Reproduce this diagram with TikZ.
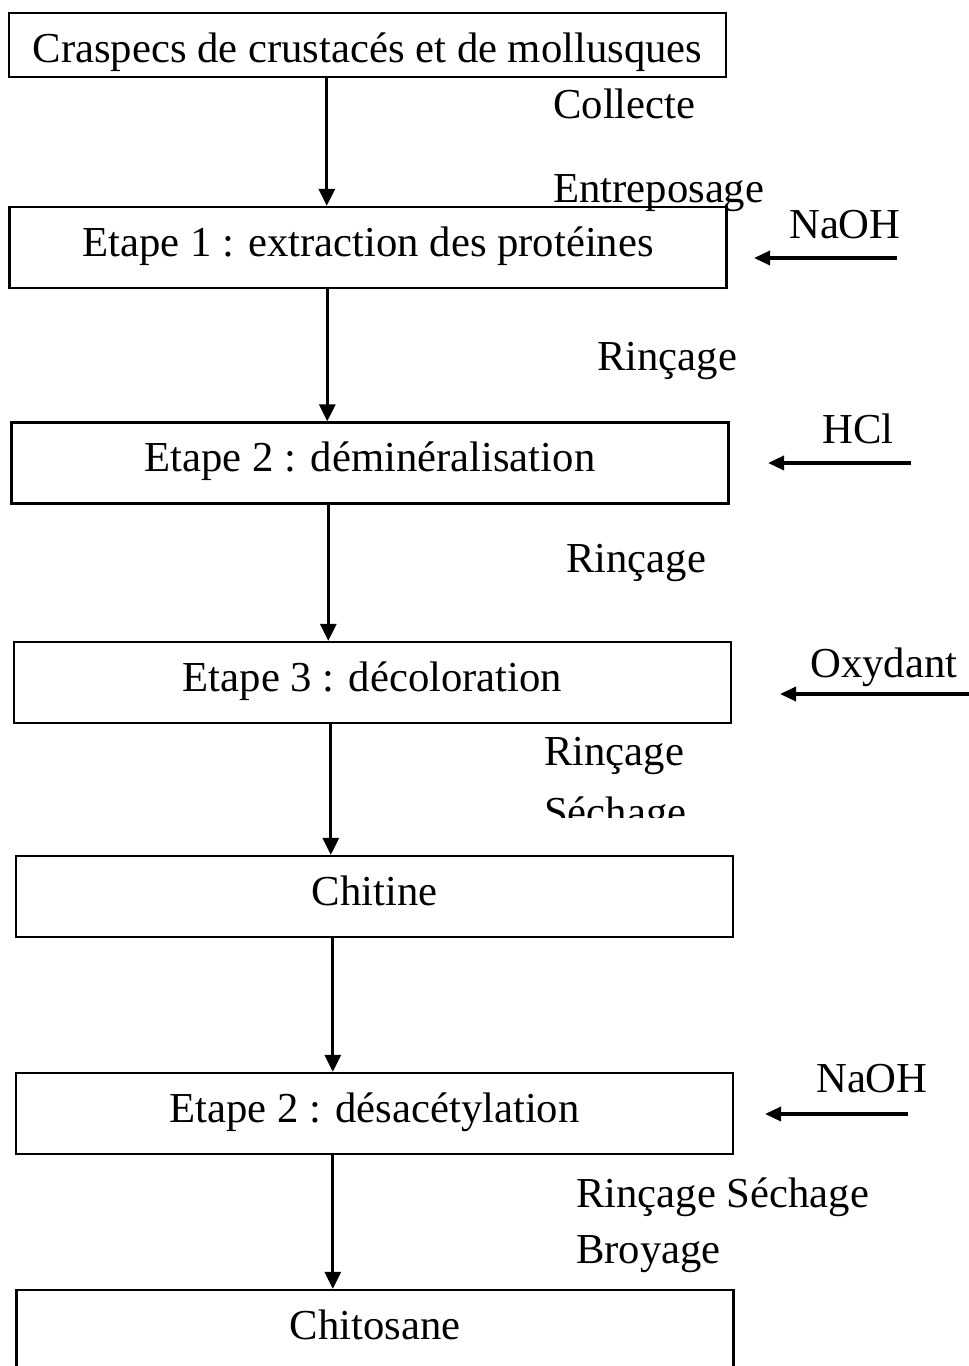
\documentclass[tikz,border=0pt]{standalone}
\usepackage{fontspec}
\setmainfont{Liberation Serif}
\usetikzlibrary{arrows.meta}
\begin{document}
\begin{tikzpicture}[x=1pt,y=-1pt,>={Triangle[length=17pt,width=16pt]}]
\tikzstyle{etape}=[draw, rectangle, line width=2.4pt, minimum width=717pt, minimum height=81pt, text height=29.9pt, text depth=12.8pt]
\tikzstyle{note}=[anchor=base west, inner sep=0pt]
\tikzstyle{fleche}=[->, line width=3pt]
\tikzstyle{ajout}=[-{Triangle[length=16pt,width=14pt]}, line width=3.4pt]
\fontsize{42.7}{52}\selectfont
\useasboundingbox (0,0) rectangle (969,1366);

\node[etape, minimum height=64pt, text height=34pt, text depth=0pt] (crasp) at (367.5,45) {Craspecs de crustacés et de mollusques};
\node[etape] (E1)    at (368,247.5)    {Etape 1 : extraction des protéines};
\node[etape] (E2)    at (370,463)      {Etape 2 : déminéralisation};
\node[etape] (E3)    at (372.5,682.5)  {Etape 3 : décoloration};
\node[etape] (chit)  at (374.5,896.5)  {Chitine};
\node[etape] (E4)    at (374.5,1113.5) {Etape 2 : désacétylation};
\node[etape] (chito) at (375,1330.5)   {Chitosane};

\node[note] (coll)  at (553,118)  {Collecte};
\node[note] (entr)  at (553,202)  {Entreposage};
\node[note] (rin1)  at (597,370)  {Rinçage};
\node[note] (rin2)  at (566,572)  {Rinçage};
\node[note] (rin3)  at (544,765)  {Rinçage};
\begin{scope}
\clip (500,780) rectangle (760,817);
\node[note] (sech3) at (544,826)  {Séchage};
\end{scope}
\node[note] (rin4)  at (576,1207) {Rinçage Séchage};
\node[note] (broy)  at (576,1263) {Broyage};

\node[note] (naoh1) at (789,238)  {NaOH};
\node[note] (hcl)   at (822,443)  {HCl};
\node[note] (oxy)   at (810,677)  {Oxydant};
\node[note] (naoh2) at (816,1092) {NaOH};

\draw[fleche] ([xshift=319pt]crasp.south west) -- ([xshift=319pt]crasp.south west |- E1.north);
\draw[fleche] ([xshift=319pt]E1.south west)    -- ([xshift=319pt]E1.south west |- E2.north);
\draw[fleche] ([xshift=318pt]E2.south west)    -- ([xshift=318pt]E2.south west |- E3.north);
\draw[fleche] ([xshift=318pt]E3.south west)    -- ([xshift=318pt]E3.south west |- chit.north);
\draw[fleche] ([xshift=318pt]chit.south west)  -- ([xshift=318pt]chit.south west |- E4.north);
\draw[fleche] ([xshift=318pt]E4.south west)    -- ([xshift=318pt]E4.south west |- chito.north);

\coordinate (a1) at (897,258);  \coordinate (b1) at (754,258);
\coordinate (a2) at (911,463);  \coordinate (b2) at (768,463);
\coordinate (a3) at (975,694);  \coordinate (b3) at (780,694);
\coordinate (a4) at (908,1114); \coordinate (b4) at (765,1114);
\draw[ajout] (a1) -- (b1);
\draw[ajout] (a2) -- (b2);
\draw[ajout] (a3) -- (b3);
\draw[ajout] (a4) -- (b4);
\end{tikzpicture}
\end{document}
